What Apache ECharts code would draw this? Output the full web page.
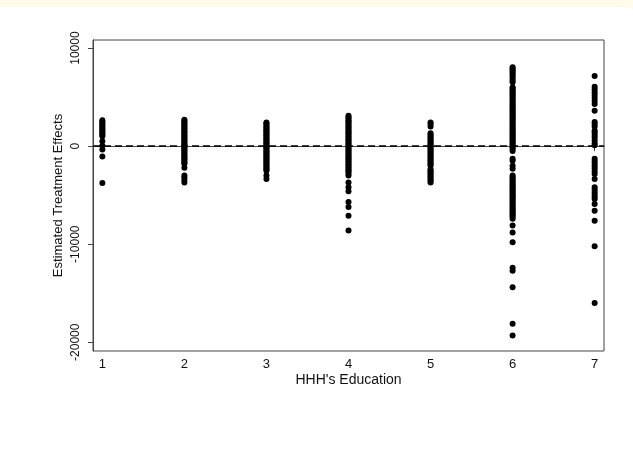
<!DOCTYPE html>
<html>
<head>
<meta charset="utf-8">
<script src="https://cdn.jsdelivr.net/npm/echarts@6/dist/echarts.min.js"></script>
<style>
  html, body { margin: 0; padding: 0; width: 633px; height: 453px; overflow: hidden; background: #fffbea; }
  #bg { position: absolute; left: -30px; top: 7px; width: 669px; height: 470px; background: #ffffff; border-radius: 14px; }
  #chart { position: absolute; left: 0; top: 0; width: 633px; height: 453px; }
</style>
</head>
<body>
<div id="bg"></div>
<div id="chart"></div>
<script>
// Categories (HHH's Education) and estimated treatment effects per category
const categories = [1, 2, 3, 4, 5, 6, 7];
const edu1 = [2650, 2500, 2350, 2200, 2050, 1900, 1750, 1600, 1450, 1300, 1150, 1000, 500, 50, -350, -1050, -3750];
const edu2 = [2700, 2580, 2450, 2300, 2180, 2050, 1900, 1780, 1650, 1500, 1380, 1250, 1100, 980, 850, 700, 580, 450, 300, 180, 50, -80, -200, -350, -480, -600, -750, -880, -1000, -1150, -1280, -1400, -1550, -1700, -1800, -2200, -3000, -3200, -3450, -3700];
const edu3 = [2420, 2300, 2150, 2000, 1880, 1750, 1600, 1480, 1350, 1200, 1080, 950, 800, 680, 550, 400, 280, 150, 0, -120, -250, -400, -520, -650, -800, -920, -1050, -1200, -1320, -1450, -1600, -1720, -1850, -2000, -2120, -2250, -2400, -2500, -3000, -3350];
const edu4 = [3100, 2950, 2800, 2650, 2500, 2350, 2200, 2050, 1900, 1750, 1600, 1450, 1300, 1150, 1000, 850, 700, 550, 400, 250, 100, -50, -200, -350, -500, -650, -800, -950, -1100, -1250, -1400, -1550, -1700, -1850, -2000, -2150, -2300, -2450, -2600, -2800, -3000, -3700, -4200, -4600, -5700, -6200, -7100, -8600];
const edu5 = [2400, 2250, 2000, 1300, 1150, 1000, 850, 700, 550, 400, 250, 100, -50, -200, -350, -500, -650, -800, -950, -1100, -1250, -1400, -1550, -1700, -1850, -2000, -2350, -2500, -2650, -2800, -2950, -3100, -3250, -3400, -3550, -3700];
const edu6 = [8050, 7900, 7750, 7600, 7450, 7300, 7100, 6900, 6700, 6500, 6000, 5850, 5700, 5550, 5400, 5250, 5100, 4950, 4800, 4650, 4500, 4350, 4200, 4050, 3900, 3750, 3600, 3450, 3300, 3150, 3000, 2850, 2700, 2550, 2400, 2250, 2100, 1950, 1800, 1650, 1500, 1350, 1200, 1050, 900, 750, 600, 450, 300, 150, 0, -150, -300, -500, -1300, -1500, -2000, -2300, -3000, -3150, -3300, -3450, -3600, -3750, -3900, -4050, -4200, -4350, -4500, -4650, -4800, -4950, -5100, -5250, -5400, -5550, -5700, -5850, -6000, -6150, -6300, -6450, -6600, -6750, -6900, -7050, -7200, -7400, -8100, -8800, -9800, -12400, -12700, -14400, -18100, -19300];
const edu7 = [7150, 6050, 5800, 5500, 5200, 4900, 4600, 4300, 3600, 2450, 2250, 2000, 1600, 1400, 1150, 900, 600, 300, 100, -1300, -1550, -1800, -2050, -2300, -2600, -2850, -3350, -4200, -4450, -4700, -4950, -5200, -5400, -5900, -6600, -7600, -10200, -16000];
const yTicks = [-20000, -10000, 0, 10000];

const groups = [edu1, edu2, edu3, edu4, edu5, edu6, edu7];
const points = [];
groups.forEach((arr, i) => arr.forEach(v => points.push([categories[i], v])));

const chart = echarts.init(document.getElementById('chart'), null, { renderer: 'canvas' });
const font = 'Liberation Sans, Arial, sans-serif';
chart.setOption({
  animation: false,
  backgroundColor: 'transparent',
  grid: { left: 93, right: 29, top: 40, bottom: 102, show: true, borderColor: '#444', borderWidth: 1, backgroundColor: 'transparent' },
  xAxis: {
    type: 'value',
    min: 0.886, max: 7.114,
    name: "HHH's Education",
    nameLocation: 'middle',
    nameGap: 22,
    nameMoveOverlap: false,
    nameTextStyle: { fontFamily: font, fontSize: 14, color: '#111' },
    axisLine: { show: true, lineStyle: { color: '#444', width: 1 } },
    axisTick: { show: true, length: 5, customValues: categories, lineStyle: { color: '#444' } },
    axisLabel: { show: true, customValues: categories, margin: 7, fontFamily: font, fontSize: 13, color: '#111', formatter: v => String(v) },
    splitLine: { show: false }
  },
  yAxis: {
    type: 'value',
    min: -20890, max: 10820,
    name: 'Estimated Treatment Effects',
    nameLocation: 'middle',
    nameGap: 28,
    nameMoveOverlap: false,
    nameRotate: 90,
    nameTextStyle: { fontFamily: font, fontSize: 13, color: '#111' },
    axisLine: { show: true, lineStyle: { color: '#444', width: 1 } },
    axisTick: { show: true, length: 5, customValues: yTicks, lineStyle: { color: '#444' } },
    axisLabel: { show: true, customValues: yTicks, rotate: 90, margin: 11, fontFamily: font, fontSize: 12, color: '#111', formatter: v => String(v) },
    splitLine: { show: false }
  },
  series: [{
    type: 'scatter',
    data: points,
    symbol: 'circle',
    symbolSize: 6,
    itemStyle: { color: '#000', opacity: 1 },
    markLine: {
      silent: true,
      symbol: ['none', 'none'],
      label: { show: false },
      lineStyle: { color: '#000', type: [7, 4], width: 1.6, opacity: 1 },
      data: [{ yAxis: 0 }]
    }
  }]
});
</script>
</body>
</html>
